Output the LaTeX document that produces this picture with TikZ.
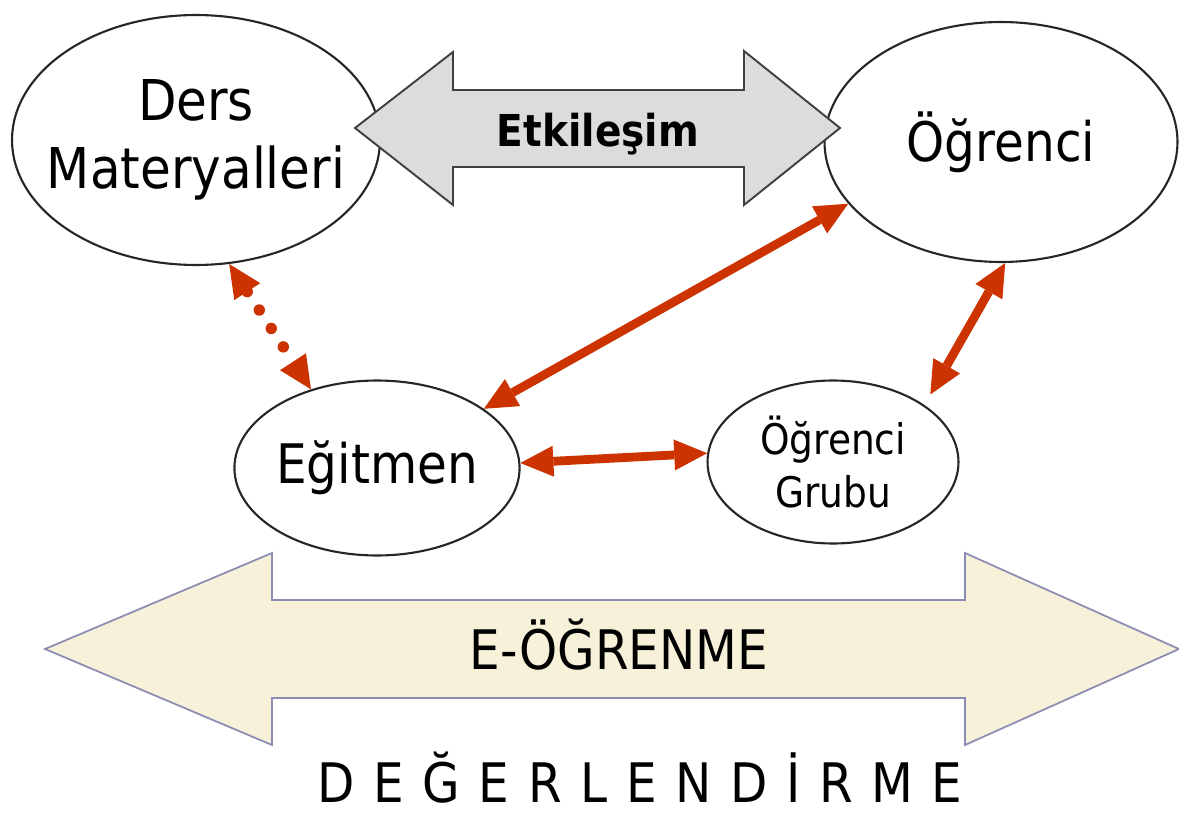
\documentclass[tikz,border=0pt]{standalone}
\usepackage{fontspec}
\setmainfont{DejaVu Sans}[FakeStretch=0.89]
\usetikzlibrary{shapes.geometric,arrows.meta}
\definecolor{linkred}{RGB}{204,51,0}
\definecolor{bandfill}{RGB}{247,241,218}
\definecolor{banddraw}{RGB}{140,140,180}
\definecolor{talkfill}{RGB}{220,220,220}

\begin{document}
\begin{tikzpicture}[x=0.02cm, y=-0.02cm,
  bubble/.style={ellipse, draw=black!85, line width=1.2pt, fill=white, inner sep=0pt,
    align=center, font=\fontsize{31}{39}\selectfont},
  link/.style={draw=linkred, line width=5pt,
    {Triangle[length=0.66cm,width=0.62cm,line width=0pt]}-{Triangle[length=0.66cm,width=0.62cm,line width=0pt]}},
  tag/.style={inner sep=0pt, anchor=base}]
  \useasboundingbox (0,0) rectangle (1179,814);

  \node[bubble, minimum width=7.36cm, minimum height=5cm, inner xsep=-0.45cm, font=\fontsize{32}{39}\selectfont] (ders) at (196,140) {Ders\\Materyalleri};
  \node[bubble, minimum width=7.06cm, minimum height=4.8cm] (ogr) at (1001,142) {Öğrenci};
  \node[bubble, minimum width=5.6cm, minimum height=3.5cm] (egit) at (377,468) {Eğitmen};
  \node[bubble, minimum width=5.02cm, minimum height=3.26cm, font=\fontsize{24}{30}\selectfont] (grup) at (833,462) {Öğrenci\\Grubu};

  \draw[fill=talkfill, draw=black!75, line width=1.1pt, line join=miter]
    (355,128) -- (453,52) -- (453,90) -- (744,90) -- (744,51) -- (840,128)
    -- (744,205) -- (744,167) -- (453,167) -- (453,205) -- cycle;
  \node[tag, font=\fontsize{25}{30}\selectfont\bfseries] (etk) at (598,147) {Etkileşim};

  \draw[fill=bandfill, draw=banddraw, line width=1pt, line join=miter]
    (45,649) -- (272,553) -- (272,600) -- (965,600) -- (965,553) -- (1179,649)
    -- (965,745) -- (965,698) -- (272,698) -- (272,745) -- cycle;
  \node[tag, font=\fontsize{31}{39}\selectfont] (eog) at (619,669) {E-ÖĞRENME};

  \node[tag, font=\fontsize{31}{39}\selectfont] (deg) at (640,802) {\spaceskip=10.6pt D E Ğ E R L E N D İ R M E};

  \draw[link, line width=6.5pt, line cap=round, dash pattern=on 0pt off 0.44cm] (ders.-75) -- (egit.130);
  \draw[link] (egit.29) -- (ogr.202);
  \draw[link] (egit.2) -- (grup.176);
  \draw[link, shorten <=0.24cm] (grup.32) -- (ogr.-88);
\end{tikzpicture}
\end{document}
